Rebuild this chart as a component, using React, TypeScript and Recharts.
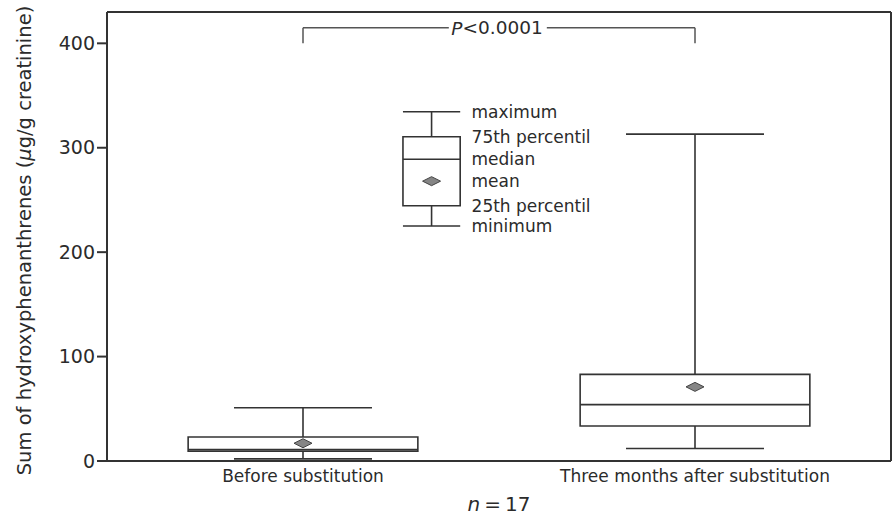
import {
  ComposedChart,
  Label,
  ReferenceArea,
  ReferenceDot,
  ReferenceLine,
  Scatter,
  XAxis,
  YAxis,
} from "recharts";

// groups and their box-plot statistics (µg/g creatinine)
const categories = ["Before substitution", "Three months after substitution"];
const minimums = [2, 12];
const lowerQuartiles = [9.5, 33.5];
const medians = [11, 54];
const upperQuartiles = [23, 83];
const maximums = [51, 313];
const means = [17, 71];

// explanatory key box drawn inside the plot
const keyLabels = ["maximum", "75th percentil", "median", "mean", "25th percentil", "minimum"];
const keyValues = [334.5, 310.5, 289, 268, 244.5, 225];

const yTicks = [0, 100, 200, 300, 400];
const pValueText = "<0.0001";
const sampleSize = 17;

const FONT = "'DejaVu Sans', sans-serif";
const INK = "#2b2b2b";
const LINE = "#333";

const BOX_HALF = 0.293;
const CAP_HALF = 0.176;
const KEY_POS = 0.328;
const KEY_HALF = 0.073;
const BRACKET_LOW = 400;
const BRACKET_HIGH = 415;

function Diamond(props: any) {
  const { cx, cy } = props;
  if (cx == null || cy == null) return null;
  return (
    <polygon
      points={`${cx - 9},${cy} ${cx},${cy - 4.5} ${cx + 9},${cy} ${cx},${cy + 4.5}`}
      fill="#858585"
      stroke="#444"
      strokeWidth={1}
    />
  );
}

export default function App() {
  const meanRows = [
    ...categories.map((_, i) => ({ pos: i, mean: means[i] })),
    { pos: KEY_POS, mean: keyValues[3] },
  ];

  const boxes = [
    ...categories.map((_, i) => ({
      pos: i,
      half: BOX_HALF,
      cap: CAP_HALF,
      min: minimums[i],
      q1: lowerQuartiles[i],
      median: medians[i],
      q3: upperQuartiles[i],
      max: maximums[i],
    })),
    {
      pos: KEY_POS,
      half: KEY_HALF,
      cap: KEY_HALF,
      min: keyValues[5],
      q1: keyValues[4],
      median: keyValues[2],
      q3: keyValues[1],
      max: keyValues[0],
    },
  ];

  const seg = (x1: number, y1: number, x2: number, y2: number, key: string, color = LINE, w = 1.6) => (
    <ReferenceLine
      key={key}
      segment={[
        { x: x1, y: y1 },
        { x: x2, y: y2 },
      ]}
      stroke={color}
      strokeWidth={w}
      ifOverflow="visible"
    />
  );

  return (
    <div style={{ position: "absolute", left: 0, top: 0 }}>
      <ComposedChart width={896} height={515} margin={{ top: 12, right: 5, bottom: 0, left: 0 }}>
        <XAxis
          type="number"
          dataKey="pos"
          domain={[-0.5, 1.5]}
          ticks={[0, 1]}
          tickFormatter={(v: number) => categories[v] ?? ""}
          height={54}
          tickLine={false}
          tickSize={6}
          tickMargin={3}
          tick={{ fill: INK, fontSize: 17, fontFamily: FONT }}
          axisLine={{ stroke: LINE, strokeWidth: 2 }}
          allowDataOverflow
        >
          <Label
            content={(p: any) => {
              const vb = p.viewBox;
              const cx = vb.x + vb.width / 2;
              return (
                <text x={cx} y={504} textAnchor="middle" dominantBaseline="central" fill={INK} fontSize={20} fontFamily={FONT}>
                  <tspan fontStyle="italic">n</tspan>
                  {"\u2009=\u2009"}
                  {sampleSize}
                </text>
              );
            }}
          />
        </XAxis>
        <YAxis
          type="number"
          domain={[0, 430]}
          ticks={yTicks}
          width={107}
          tickSize={10}
          tickMargin={2}
          tick={{ fill: INK, fontSize: 19, fontFamily: FONT }}
          axisLine={{ stroke: LINE, strokeWidth: 2 }}
          tickLine={{ stroke: LINE, strokeWidth: 2 }}
          allowDataOverflow
        >
          <Label
            content={(p: any) => {
              const vb = p.viewBox;
              const cy = vb.y + vb.height / 2 + 4;
              return (
                <text
                  x={24}
                  y={cy}
                  transform={`rotate(-90 24 ${cy})`}
                  textAnchor="middle"
                  dominantBaseline="central"
                  fill={INK}
                  fontSize={19.5}
                  fontFamily={FONT}
                >
                  Sum of hydroxyphenanthrenes (<tspan fontStyle="italic">μ</tspan>g/g creatinine)
                </text>
              );
            }}
          />
        </YAxis>

        {/* frame top and right */}
        <ReferenceLine y={430} stroke={LINE} strokeWidth={2} />
        <ReferenceLine x={1.5} stroke={LINE} strokeWidth={2} />

        {boxes.map((b, i) => (
          <ReferenceArea
            key={`box-${i}`}
            x1={b.pos - b.half}
            x2={b.pos + b.half}
            y1={b.q1}
            y2={b.q3}
            fill="none"
            fillOpacity={0}
            stroke={LINE}
            strokeWidth={1.6}
            ifOverflow="visible"
          />
        ))}
        {boxes.flatMap((b, i) => [
          seg(b.pos, b.q3, b.pos, b.max, `wu-${i}`),
          seg(b.pos, b.min, b.pos, b.q1, `wl-${i}`),
          seg(b.pos - b.cap, b.max, b.pos + b.cap, b.max, `cu-${i}`),
          seg(b.pos - b.cap, b.min, b.pos + b.cap, b.min, `cl-${i}`),
          seg(b.pos - b.half, b.median, b.pos + b.half, b.median, `md-${i}`),
        ])}

        {/* significance bracket */}
        {seg(0, BRACKET_LOW, 0, BRACKET_HIGH, "br-l", "#555", 1.5)}
        {seg(1, BRACKET_LOW, 1, BRACKET_HIGH, "br-r", "#555", 1.5)}
        {seg(0, BRACKET_HIGH, 0.372, BRACKET_HIGH, "br-h1", "#555", 1.5)}
        {seg(0.622, BRACKET_HIGH, 1, BRACKET_HIGH, "br-h2", "#555", 1.5)}
        <ReferenceDot
          x={0.495}
          y={BRACKET_HIGH}
          ifOverflow="visible"
          shape={(p: any) => (
            <text x={p.cx} y={p.cy} textAnchor="middle" dominantBaseline="central" fill={INK} fontSize={18.5} fontFamily={FONT}>
              <tspan fontStyle="italic">P</tspan>
              {pValueText}
            </text>
          )}
        />

        {keyLabels.map((label, i) => (
          <ReferenceDot
            key={`kl-${i}`}
            x={KEY_POS}
            y={keyValues[i]}
            ifOverflow="visible"
            shape={(p: any) => (
              <text x={p.cx + 40} y={p.cy} dy="0.35em" fill={INK} fontSize={17} fontFamily={FONT}>
                {label}
              </text>
            )}
          />
        ))}

        <Scatter data={meanRows} dataKey="mean" shape={Diamond} isAnimationActive={false} />
      </ComposedChart>
    </div>
  );
}
